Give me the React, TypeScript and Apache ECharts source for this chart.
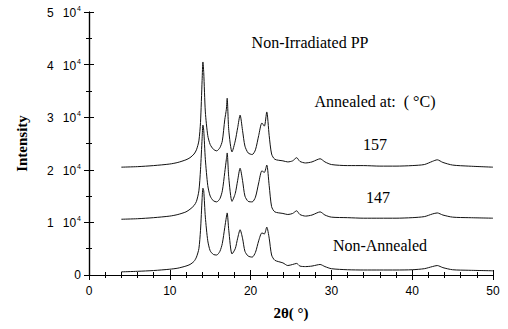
import React, { useEffect, useRef } from "react";
import * as echarts from "echarts";

// 2θ positions (degrees)
const twoTheta = [
  4, 6, 8, 10, 11, 12, 12.5, 13, 13.3, 13.6, 13.8, 14.0, 14.1, 14.2, 14.4, 14.7, 15.0, 15.4, 15.8,
  16.2, 16.5, 16.8, 17.0, 17.1, 17.3, 17.7, 18.1, 18.4, 18.7, 19.0, 19.3, 19.7, 20.2, 20.6, 21.0,
  21.4, 21.7, 22.0, 22.3, 22.6, 23.0, 24.0, 24.6, 25.2, 25.7, 26.1, 26.8, 27.6, 28.2, 28.6, 29.2,
  30, 32, 34, 36, 38, 40, 41.5, 42.5, 43.1, 43.8, 45, 47, 50,
];

// Annealed at 157 °C
const annealed157 = [
  20500, 20600, 20800, 21100, 21400, 21900, 22300, 23000, 23800, 25500, 29000, 37000, 40500, 38500,
  31000, 26500, 24800, 23900, 23600, 24200, 25500, 29500, 31500, 33600, 27500, 23400, 25500, 28000,
  30400, 27500, 24500, 23200, 22900, 23800, 26500, 28900, 28300, 31000, 26500, 23000, 22000, 21700,
  21500, 21700, 22300, 21600, 21300, 21500, 21900, 22100, 21500, 21000, 20800, 20800, 20700, 20700,
  20800, 21000, 21600, 21900, 21400, 20900, 20700, 20500,
];

// Annealed at 147 °C
const annealed147 = [
  10600, 10700, 10900, 11200, 11500, 12000, 12500, 13200, 14000, 16000, 20000, 26000, 28500, 27500,
  22000, 17000, 15000, 14100, 13900, 14500, 16000, 19500, 22000, 23200, 18500, 14000, 15500, 18000,
  20300, 18000, 15000, 14000, 13900, 14800, 17500, 19800, 19500, 20900, 17000, 13000, 12000, 11700,
  11500, 11700, 12200, 11500, 11200, 11400, 11800, 12000, 11400, 11000, 10900, 10800, 10800, 10800,
  10900, 11100, 11600, 11800, 11400, 11000, 10900, 10800,
];

// Non-annealed
const nonAnnealed = [
  600, 700, 850, 1100, 1300, 1700, 2000, 2600, 3400, 5000, 8500, 14500, 16500, 16000, 11000, 6500,
  4600, 3900, 3800, 4500, 6000, 9000, 11000, 11800, 8500, 4000, 5000, 7000, 8600, 7000, 4500, 3600,
  3400, 4300, 6500, 8000, 7800, 9100, 7000, 3800, 2800, 2300, 1800, 2000, 2200, 1700, 1600, 1700,
  1900, 2000, 1600, 1200, 1000, 950, 950, 950, 1000, 1200, 1600, 1800, 1400, 1000, 900, 800,
];

const seriesNames = ["157", "147", "Non-Annealed"];
const yTicks = [0, 10000, 20000, 30000, 40000, 50000];

const serif = "'Liberation Serif', 'Times New Roman', serif";
const sans = "'Liberation Sans', Arial, Helvetica, sans-serif";

export default function App() {
  const ref = useRef<HTMLDivElement>(null);
  useEffect(() => {
    if (!ref.current) return;
    const chart = echarts.init(ref.current, undefined, { renderer: "svg" });
    const toPairs = (arr: number[]) => twoTheta.map((x, i) => [x, arr[i]]);
    const lineSeries = [annealed157, annealed147, nonAnnealed].map((arr, i) => ({
      name: seriesNames[i],
      type: "line",
      data: toPairs(arr),
      symbol: "none",
      smooth: 0.25,
      lineStyle: { color: "#111", width: 1 },
      xAxisIndex: 0,
      yAxisIndex: 0,
    }));
    const baseX = {
      type: "value",
      min: 0,
      max: 50,
      interval: 10,
      splitLine: { show: false },
      axisLine: { show: true, lineStyle: { color: "#000", width: 1.2 } },
      axisTick: { show: true, inside: true, length: 5, lineStyle: { color: "#000" } },
      minorTick: { show: true, splitNumber: 5, length: 3, lineStyle: { color: "#000" } },
    };
    const baseY = {
      type: "value",
      min: 0,
      max: 50000,
      interval: 10000,
      splitLine: { show: false },
      axisLine: { show: true, lineStyle: { color: "#000", width: 1.2 } },
      axisTick: { show: true, inside: true, length: 5, lineStyle: { color: "#000" } },
      minorTick: { show: true, splitNumber: 2, length: 3, lineStyle: { color: "#000" } },
    };
    chart.setOption({
      animation: false,
      backgroundColor: "#fff",
      grid: { left: 89, right: 15, top: 12, bottom: 54, containLabel: false },
      xAxis: [
        {
          ...baseX,
          position: "bottom",
          name: "2θ( °)",
          nameLocation: "middle",
          nameGap: 30,
          nameTextStyle: { fontFamily: serif, fontSize: 15, fontWeight: "bold", color: "#000" },
          axisLabel: { fontFamily: sans, fontSize: 12, color: "#000", margin: 10 },
        },
        { ...baseX, position: "top", axisLabel: { show: false } },
      ],
      yAxis: [
        {
          ...baseY,
          position: "left",
          name: "Intensity",
          nameLocation: "middle",
          nameGap: 60,
          nameTextStyle: { fontFamily: serif, fontSize: 15, fontWeight: "bold", color: "#000" },
          axisLabel: {
            margin: 8,
            color: "#000",
            fontFamily: sans,
            fontSize: 12,
            customValues: yTicks,
            formatter: (v: number) =>
              v === 0 ? "{n|0}" : `{n|${v / 10000}}{e|10}{s|4}`,
            rich: {
              n: { fontFamily: sans, fontSize: 12, color: "#000", verticalAlign: "bottom" },
              e: {
                fontFamily: sans,
                fontSize: 12,
                color: "#000",
                padding: [0, 0, 0, 9],
                verticalAlign: "bottom",
              },
              s: {
                fontFamily: sans,
                fontSize: 7,
                color: "#000",
                padding: [0, 0, 7, 1],
                verticalAlign: "bottom",
              },
            },
          },
        },
        { ...baseY, position: "right", axisLabel: { show: false } },
      ],
      graphic: [
        {
          type: "text",
          x: 310,
          y: 42,
          style: {
            text: "Non-Irradiated PP",
            font: `16px ${serif}`,
            fill: "#000",
            textAlign: "center",
            textVerticalAlign: "middle",
          },
        },
        {
          type: "text",
          x: 375,
          y: 101,
          style: {
            text: "Annealed at:  ( °C)",
            font: `16px ${serif}`,
            fill: "#000",
            textAlign: "center",
            textVerticalAlign: "middle",
          },
        },
        {
          type: "text",
          x: 375,
          y: 144,
          style: {
            text: "157",
            font: `16px ${serif}`,
            fill: "#000",
            textAlign: "center",
            textVerticalAlign: "middle",
          },
        },
        {
          type: "text",
          x: 378,
          y: 197,
          style: {
            text: "147",
            font: `16px ${serif}`,
            fill: "#000",
            textAlign: "center",
            textVerticalAlign: "middle",
          },
        },
        {
          type: "text",
          x: 380,
          y: 245,
          style: {
            text: "Non-Annealed",
            font: `16px ${serif}`,
            fill: "#000",
            textAlign: "center",
            textVerticalAlign: "middle",
          },
        },
      ],
      series: lineSeries,
    });
    return () => chart.dispose();
  }, []);
  return (
    <div
      ref={ref}
      style={{ position: "fixed", left: 0, top: 0, width: 508, height: 329, background: "#fff" }}
    />
  );
}
